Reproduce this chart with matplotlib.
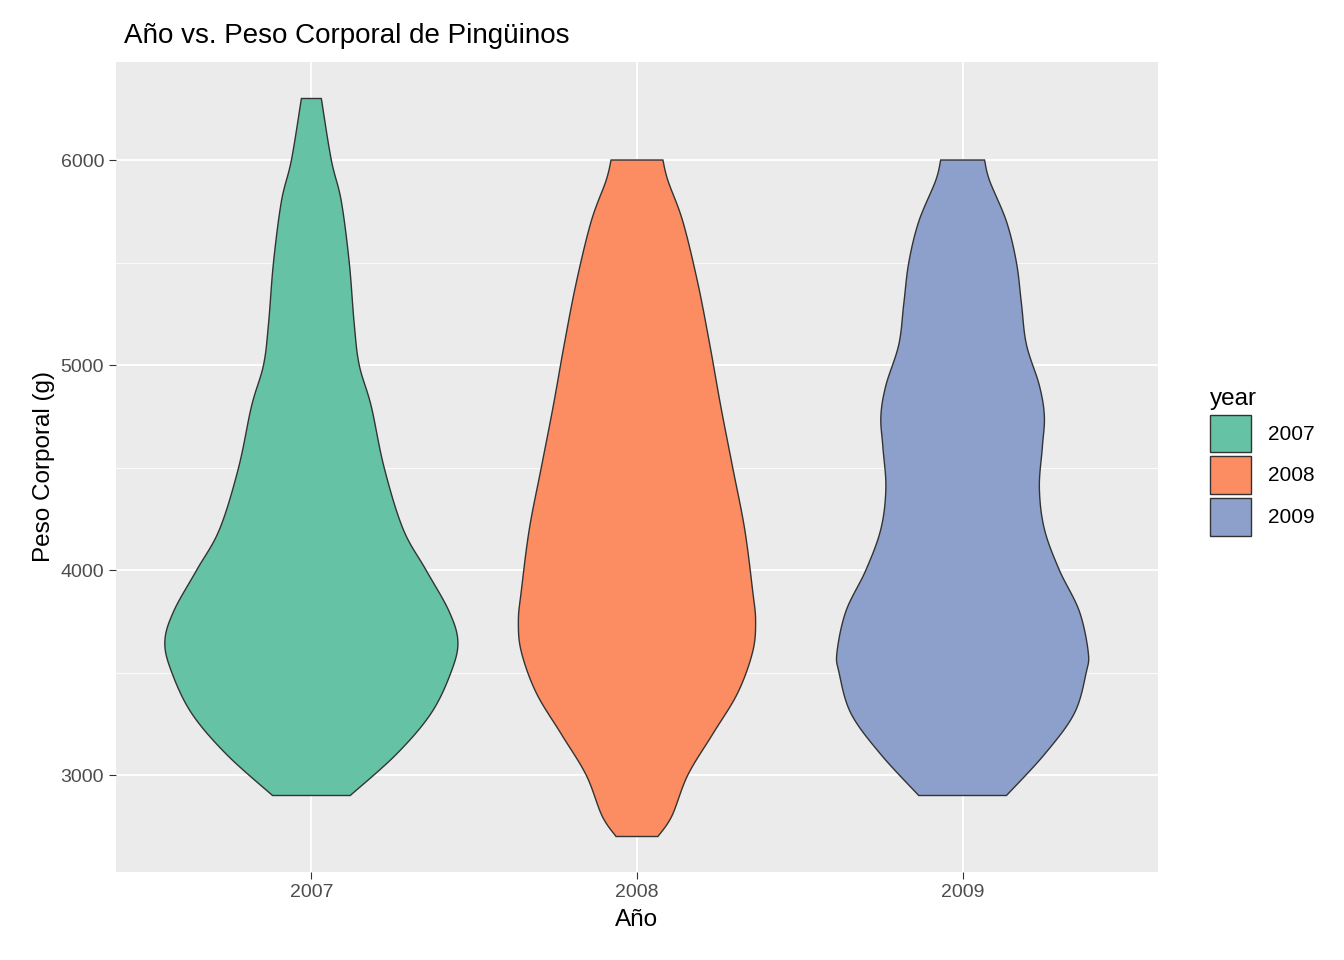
import numpy as np
import matplotlib
matplotlib.use("Agg")
import matplotlib.pyplot as plt
from matplotlib.patches import Patch

plt.rcParams["font.family"] = ["Liberation Sans", "DejaVu Sans"]

# Years and fill colours (ggplot Set2).
years = ["2007", "2008", "2009"]
colors = ["#66C2A5", "#FC8D62", "#8DA0CB"]

# Violin profiles: body mass (g) and relative density.
mass_2007 = [2900, 3100, 3300, 3500, 3650, 3800, 4000, 4200, 4500, 4800, 5000, 5200, 5500, 5800, 6000, 6300]
dens_2007 = [39, 85, 120, 140, 147, 138, 115, 92, 73, 60, 48, 43, 38, 30, 20, 10]
mass_2008 = [2700, 2800, 3000, 3200, 3400, 3600, 3750, 3900, 4200, 4500, 4800, 5100, 5400, 5700, 5900, 6000]
dens_2008 = [21, 35, 51, 76, 101, 116, 119, 116, 108, 96, 84, 73, 61, 46, 31, 26]
mass_2009 = [2900, 3100, 3300, 3500, 3600, 3800, 4000, 4200, 4400, 4600, 4750, 4900, 5100, 5300, 5500, 5700, 5900, 6000]
dens_2009 = [44, 82, 112, 124, 126, 117, 97, 82, 77, 80, 82, 77, 64, 59, 54, 44, 27, 22]

masses = [mass_2007, mass_2008, mass_2009]
dens = [dens_2007, dens_2008, dens_2009]
peak = max(max(d) for d in dens)


def smooth(m, d, n=12):
    # Catmull-Rom pass through the read points, only to round the outline.
    p = np.column_stack([m, d]).astype(float)
    p = np.vstack([p[0], p, p[-1]])
    out = []
    t = np.linspace(0, 1, n, endpoint=False)[:, None]
    for k in range(1, len(p) - 2):
        p0, p1, p2, p3 = p[k - 1], p[k], p[k + 1], p[k + 2]
        out.append(0.5 * (2 * p1 + (-p0 + p2) * t + (2 * p0 - 5 * p1 + 4 * p2 - p3) * t ** 2
                          + (-p0 + 3 * p1 - 3 * p2 + p3) * t ** 3))
    out.append(p[-2][None, :])
    out = np.vstack(out)
    return out[:, 0], out[:, 1]


fig = plt.figure(figsize=(13.44, 9.6), dpi=100)
ax = fig.add_axes([0.0863, 0.0917, 0.7753, 0.8437])
ax.set_facecolor("#EBEBEB")

for i in range(len(years)):
    m, d = smooth(masses[i], dens[i])
    w = d / peak * 0.45
    xs = np.concatenate([i + 1 - w, (i + 1 + w)[::-1]])
    ys = np.concatenate([m, m[::-1]])
    ax.fill(xs, ys, facecolor=colors[i], edgecolor="#333333", linewidth=1.0, zorder=3)

ax.set_xlim(0.4, 3.6)
ax.set_ylim(2527, 6478)
ax.set_xticks([1, 2, 3])
ax.set_xticklabels(years)
ax.set_yticks([3000, 4000, 5000, 6000])
ax.set_yticks([3500, 4500, 5500], minor=True)
ax.grid(which="major", color="white", linewidth=1.3, zorder=0)
ax.grid(which="minor", axis="y", color="white", linewidth=0.6, zorder=0)
ax.tick_params(which="minor", length=0)
ax.tick_params(which="major", length=5, color="#333333", labelsize=14, labelcolor="#4D4D4D")
for s in ax.spines.values():
    s.set_visible(False)

ax.set_xlabel("Año", fontsize=17.5, labelpad=6)
ax.set_ylabel("Peso Corporal (g)", fontsize=17.5)
ax.set_title("Año vs. Peso Corporal de Pingüinos", fontsize=20, x=0.008, ha="left", pad=14)

handles = [Patch(facecolor=c, edgecolor="#333333", label=y) for c, y in zip(colors, years)]
leg = fig.legend(handles=handles, title="year", loc="upper left", bbox_to_anchor=(0.886, 0.615),
                 frameon=False, fontsize=15, title_fontsize=17.5, handlelength=2.0, handleheight=2.4,
                 labelspacing=0.2, handletextpad=0.8)
leg._legend_box.align = "left"

fig.savefig("out.png", dpi=100)
